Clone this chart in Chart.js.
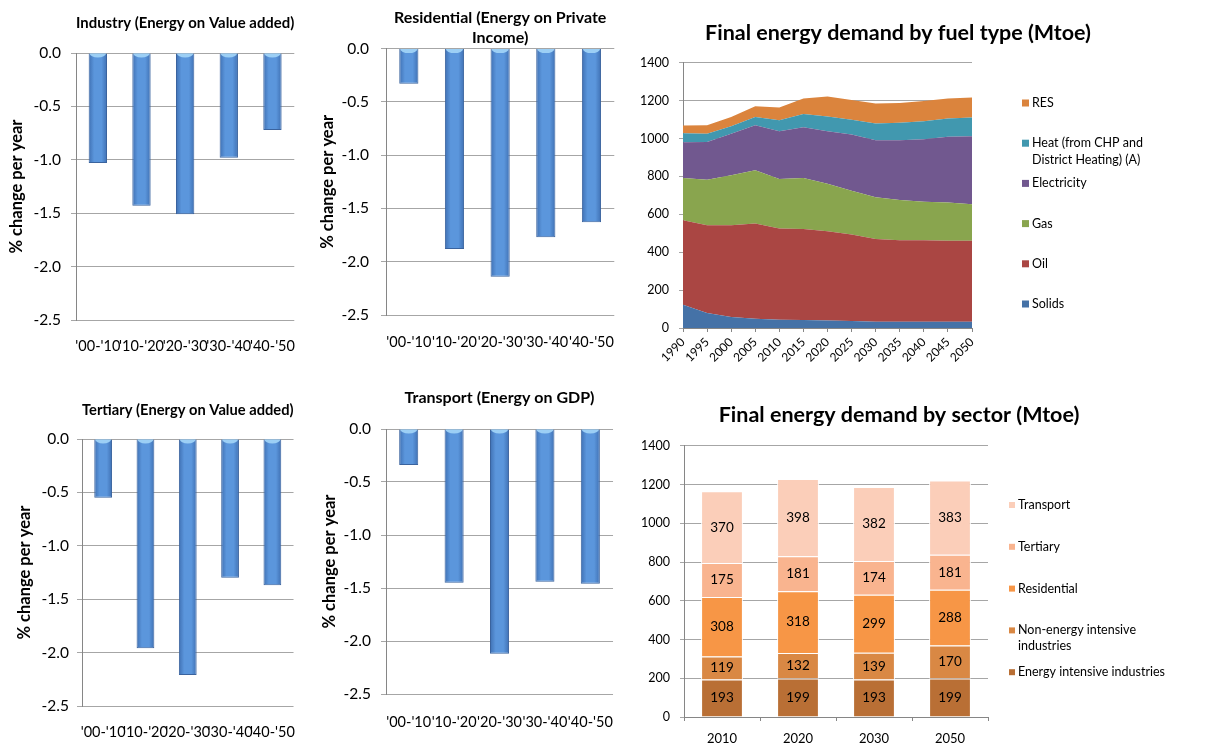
<!DOCTYPE html>
<html>
<head>
<meta charset="utf-8">
<script src="https://cdn.jsdelivr.net/npm/chart.js@4"></script>
<style>
body { margin: 0; background: #fff; }
#wrap { position: relative; width: 1213px; height: 744px; overflow: hidden; }
canvas { position: absolute; }
</style>
</head>
<body>
<div id="wrap">
  <canvas id="c1" width="315" height="380" style="left:0;top:0"></canvas>
  <canvas id="c2" width="320" height="380" style="left:315px;top:0"></canvas>
  <canvas id="c3" width="315" height="359" style="left:0;top:385px"></canvas>
  <canvas id="c4" width="320" height="359" style="left:315px;top:385px"></canvas>
  <canvas id="c5" width="578" height="385" style="left:635px;top:0"></canvas>
  <canvas id="c6" width="578" height="359" style="left:635px;top:385px"></canvas>
</div>
<script>
const F = 'Lato';

// intensity changes, % per year
const periods = ["'00-'10", "'10-'20", "'20-'30", "'30-'40", "'40-'50"];
const industry = [-1.03, -1.43, -1.51, -0.98, -0.72];
const residential = [-0.33, -1.88, -2.14, -1.77, -1.63];
const tertiary = [-0.55, -1.96, -2.21, -1.30, -1.37];
const transport = [-0.34, -1.45, -2.12, -1.44, -1.46];

// final energy demand by fuel (Mtoe)
const fuelYears = ['1990', '1995', '2000', '2005', '2010', '2015', '2020', '2025', '2030', '2035', '2040', '2045', '2050'];
const solids = [123, 79, 58, 49, 44, 42, 40, 37, 33, 33, 33, 33, 33];
const oil = [446, 463, 484, 502, 481, 481, 471, 456, 437, 430, 430, 428, 428];
const gas = [223, 241, 264, 282, 262, 269, 251, 232, 220, 213, 204, 201, 192];
const electricity = [189, 199, 220, 237, 252, 268, 277, 296, 301, 315, 329, 347, 359];
const heat = [47, 44, 39, 44, 58, 70, 77, 79, 88, 92, 96, 97, 99];
const res = [41, 44, 49, 56, 67, 81, 106, 104, 106, 105, 107, 105, 106];

// final energy demand by sector (Mtoe)
const sectorYears = ['2010', '2020', '2030', '2050'];
const energyIntensive = [193, 199, 193, 199];
const nonEnergyIntensive = [119, 132, 139, 170];
const residentialSector = [308, 318, 299, 288];
const tertiarySector = [175, 181, 174, 181];
const transportSector = [370, 398, 382, 383];

const gridCol = '#a6a6a6';
const axisCol = '#868686';

function barFill(c) {
  const chart = c.chart;
  const x = chart.scales.x;
  if (!chart.chartArea || !x) return '#5a93d8';
  const cx = x.getPixelForValue(c.dataIndex);
  const w = x.width / periods.length * 0.42;
  const g = chart.ctx.createLinearGradient(cx - w / 2, 0, cx + w / 2, 0);
  g.addColorStop(0, '#3f70b3');
  g.addColorStop(0.3, '#5b96dc');
  g.addColorStop(0.7, '#5b96dc');
  g.addColorStop(1, '#3f70b3');
  return g;
}

// light top of the cylinder bars
const capPlugin = {
  id: 'cap',
  afterDatasetsDraw(chart) {
    const ctx = chart.ctx;
    chart.getDatasetMeta(0).data.forEach(bar => {
      ctx.save();
      ctx.fillStyle = '#9ccff5';
      ctx.beginPath();
      ctx.ellipse(bar.x, bar.base, bar.width / 2 - 1, 4, 0, 0, Math.PI);
      ctx.fill();
      ctx.restore();
    });
  }
};

function smallBars(id, title, values, o) {
  new Chart(document.getElementById(id), {
    type: 'bar',
    data: {
      labels: periods,
      datasets: [{
        data: values,
        backgroundColor: barFill,
        borderColor: '#3a639e',
        borderWidth: 1,
        barPercentage: 0.42,
        categoryPercentage: 1
      }]
    },
    options: {
      responsive: false,
      animation: false,
      layout: { padding: { left: 0, right: o.padR, top: 0, bottom: 0 } },
      plugins: {
        legend: { display: false },
        tooltip: { enabled: false },
        title: {
          display: true, text: title, fullSize: false, color: '#000',
          font: { family: F, size: 16, weight: 'bold', lineHeight: o.lh || 1.2 },
          padding: { top: o.tTop, bottom: o.tBot }
        }
      },
      scales: {
        x: {
          grid: { display: false, drawTicks: false },
          border: { display: false },
          ticks: { color: '#000', font: { family: F, size: 14.5 }, padding: o.xPad, maxRotation: 0, minRotation: 0, autoSkip: false },
          afterFit: s => { s.height = o.xH; }
        },
        y: {
          min: -2.5, max: 0,
          ticks: { stepSize: 0.5, color: '#000', font: { family: F, size: 15.5 }, padding: o.yPad, callback: v => v.toFixed(1) },
          grid: { color: gridCol, tickLength: 5 },
          border: { color: axisCol },
          title: { display: true, text: '% change per year', color: '#000', font: { family: F, size: 16.5, weight: 'bold' }, padding: { top: o.ttl } },
          afterFit: s => { s.width = o.yW; }
        }
      }
    },
    plugins: [capPlugin]
  });
}

smallBars('c1', 'Industry (Energy on Value added)', industry,
  { padR: 8, tTop: 13.4, tBot: 20.4, xPad: 18, xH: 60, yPad: 10, yW: 76, ttl: 7 });
smallBars('c2', ['Residential (Energy on Private', 'Income)'], residential,
  { padR: 16, tTop: 7, tBot: 0, lh: 1.3, xPad: 19, xH: 65, yPad: 12, yW: 71, ttl: 3 });
smallBars('c3', 'Tertiary (Energy on Value added)', tertiary,
  { padR: 1, tTop: 15.4, tBot: 19.4, xPad: 18, xH: 38, yPad: 8, yW: 82, ttl: 15 });
smallBars('c4', 'Transport (Energy on GDP)', transport,
  { padR: 18, tTop: 3.4, tBot: 21.4, xPad: 20, xH: 50, yPad: 10, yW: 71, ttl: 5 });

// legend at the side, top item first
const sideLegend = {
  id: 'sideLegend',
  afterDraw(chart, args, o) {
    const ctx = chart.ctx;
    ctx.save();
    ctx.font = o.size + 'px ' + F;
    ctx.textBaseline = 'middle';
    chart.data.datasets.slice().reverse().forEach((ds, i) => {
      const y = o.top + i * o.step;
      ctx.fillStyle = ds.backgroundColor;
      ctx.fillRect(o.x, y - o.box / 2, o.box, o.box);
      ctx.fillStyle = '#000';
      ds.label.split('\n').forEach((line, k) => ctx.fillText(line, o.x + o.gap, y + k * o.lineH));
    });
    ctx.restore();
  }
};

const valueLabels = {
  id: 'valueLabels',
  afterDatasetsDraw(chart) {
    const ctx = chart.ctx;
    ctx.save();
    ctx.font = '13.5px ' + F;
    ctx.fillStyle = '#000';
    ctx.textAlign = 'center';
    ctx.textBaseline = 'middle';
    chart.data.datasets.forEach((ds, i) => {
      chart.getDatasetMeta(i).data.forEach((bar, j) => {
        ctx.fillText(ds.data[j], bar.x, (bar.y + bar.base) / 2);
      });
    });
    ctx.restore();
  }
};

function area(label, data, color, fill) {
  return { label: label, data: data, backgroundColor: color, borderColor: color, borderWidth: 0, pointRadius: 0, fill: fill, tension: 0 };
}

const plainTick = v => String(v);

new Chart(document.getElementById('c5'), {
  type: 'line',
  data: {
    labels: fuelYears,
    datasets: [
      area('Solids', solids, '#4572a7', 'origin'),
      area('Oil', oil, '#aa4643', '-1'),
      area('Gas', gas, '#89a54e', '-1'),
      area('Electricity', electricity, '#71588f', '-1'),
      area('Heat (from CHP and\nDistrict Heating) (A)', heat, '#4198af', '-1'),
      area('RES', res, '#db843d', '-1')
    ]
  },
  options: {
    responsive: false,
    animation: false,
    layout: { padding: { left: 0, right: 52, top: 0, bottom: 0 } },
    plugins: {
      legend: { display: false },
      tooltip: { enabled: false },
      title: {
        display: true, text: 'Final energy demand by fuel type (Mtoe)', color: '#000',
        font: { family: F, size: 21.5, weight: 'bold', lineHeight: 1.2 },
        padding: { top: 20, bottom: 17 }
      },
      sideLegend: { x: 387, top: 103, step: 40.2, box: 7, gap: 10, size: 12.5, lineH: 17 }
    },
    scales: {
      x: {
        grid: { drawOnChartArea: false, tickLength: 4, color: axisCol },
        border: { color: axisCol },
        ticks: { color: '#000', font: { family: F, size: 12 }, padding: 3, maxRotation: 45, minRotation: 45, autoSkip: false },
        afterFit: s => { s.height = 57; }
      },
      y: {
        stacked: true, min: 0, max: 1400,
        ticks: { stepSize: 200, color: '#000', font: { family: F, size: 12.5 }, padding: 10, callback: plainTick },
        grid: { color: gridCol, tickLength: 4 },
        border: { color: axisCol },
        afterFit: s => { s.width = 48; }
      },
      gap: {
        type: 'linear', position: 'right', display: true,
        grid: { display: false }, border: { display: false }, ticks: { display: false },
        afterFit: s => { s.width = 189; }
      }
    }
  },
  plugins: [sideLegend]
});

function seg(label, data, color) {
  return { label: label, data: data, backgroundColor: color, borderColor: '#fff', borderWidth: 1, barPercentage: 0.55, categoryPercentage: 1 };
}

new Chart(document.getElementById('c6'), {
  type: 'bar',
  data: {
    labels: sectorYears,
    datasets: [
      seg('Energy intensive industries', energyIntensive, '#b96f35'),
      seg('Non-energy intensive\nindustries', nonEnergyIntensive, '#d98844'),
      seg('Residential', residentialSector, '#f79646'),
      seg('Tertiary', tertiarySector, '#f9b48f'),
      seg('Transport', transportSector, '#fbceb9')
    ]
  },
  options: {
    responsive: false,
    animation: false,
    layout: { padding: { left: 0, right: 50, top: 0, bottom: 0 } },
    plugins: {
      legend: { display: false },
      tooltip: { enabled: false },
      title: {
        display: true, text: 'Final energy demand by sector (Mtoe)', color: '#000',
        font: { family: F, size: 21.5, weight: 'bold', lineHeight: 1.2 },
        padding: { top: 17, bottom: 18 }
      },
      sideLegend: { x: 374, top: 120, step: 41.8, box: 6, gap: 9, size: 12.5, lineH: 16 }
    },
    scales: {
      x: {
        stacked: true,
        grid: { drawOnChartArea: false, tickLength: 4, color: axisCol },
        border: { color: axisCol },
        ticks: { color: '#000', font: { family: F, size: 13 }, padding: 10 },
        afterFit: s => { s.height = 27; }
      },
      y: {
        stacked: true, min: 0, max: 1400,
        ticks: { stepSize: 200, color: '#000', font: { family: F, size: 12.5 }, padding: 10, callback: plainTick },
        grid: { color: gridCol, tickLength: 4 },
        border: { color: axisCol },
        afterFit: s => { s.width = 49; }
      },
      gap: {
        type: 'linear', position: 'right', display: true,
        grid: { display: false }, border: { display: false }, ticks: { display: false },
        afterFit: s => { s.width = 175; }
      }
    }
  },
  plugins: [sideLegend, valueLabels]
});
</script>
</body>
</html>
